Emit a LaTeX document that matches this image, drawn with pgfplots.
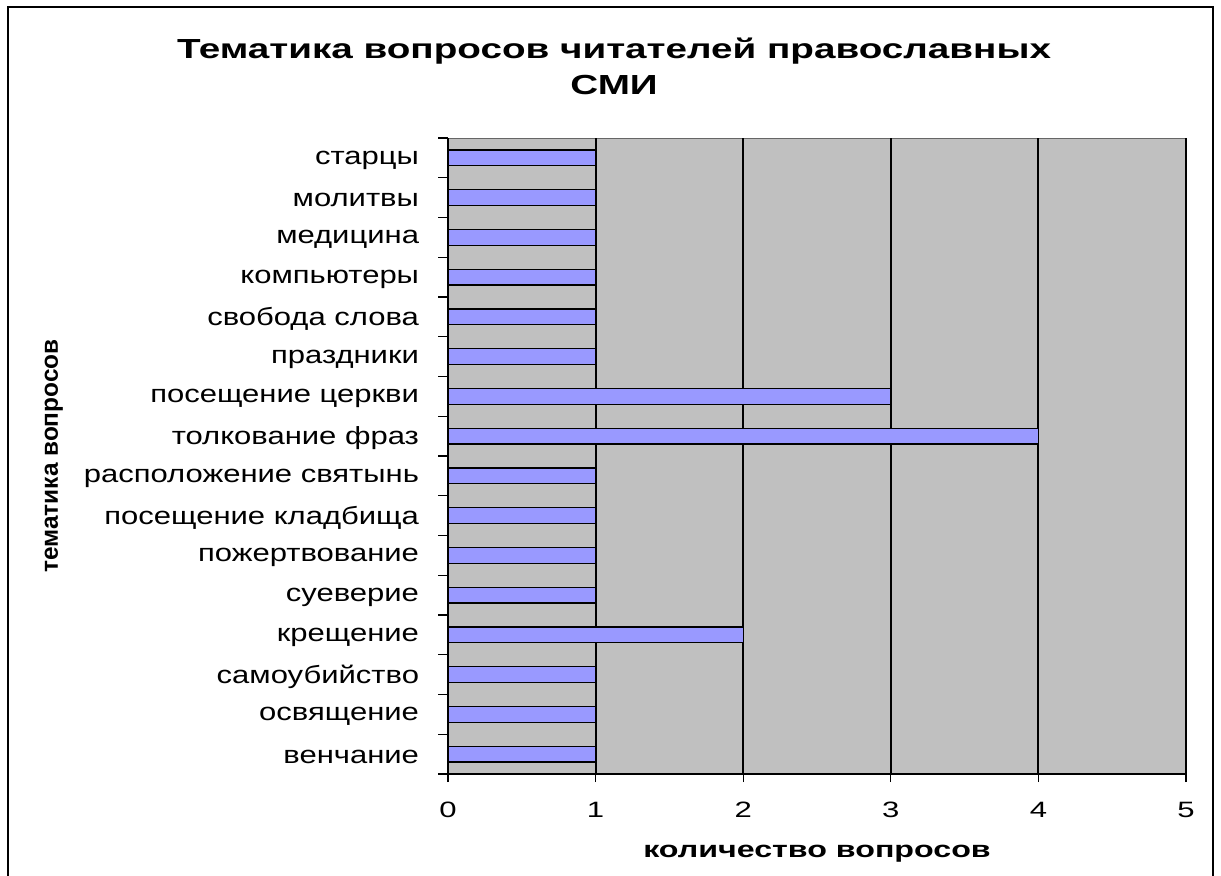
\documentclass[border=0pt]{standalone}
\usepackage{fontspec}
\setmainfont{Liberation Sans}
\newfontfamily\widefont[FakeStretch=1.4]{Liberation Sans}
\newfontfamily\labelfont[FakeStretch=1.25]{Liberation Sans}
\usepackage{pgfplots}
\pgfplotsset{compat=1.18}
\definecolor{plotbg}{HTML}{C0C0C0}
\definecolor{barfill}{HTML}{9999FF}

\begin{document}
\begin{tikzpicture}
    % page = 1221x876 px, 1 px = 0.5bp, origin at top left
    \path[use as bounding box] (0,0) rectangle (610.5bp,-438bp);
    \draw[line width=1bp] (4bp,-438bp) -- (4bp,-3.5bp) -- (606.5bp,-3.5bp) -- (606.5bp,-438bp);
    \begin{axis}[
            at={(224bp,-387bp)}, anchor=south west,
            scale only axis,
            width=369bp, height=318bp,
            xbar, bar width=0.4,
            xmin=0, xmax=5,
            ymin=-0.5, ymax=15.5,
            axis lines*=left,
            axis line style={black, line width=0.6bp},
            axis background/.style={fill=plotbg, draw=gray!80!black, line width=0.5bp},
            xtick={0,...,5},
            xmajorgrids,
            major grid style={black, line width=0.9bp},
            tick align=outside,
            major tick length=4bp,
            tick style={black, line width=0.6bp},
            ytick={0,...,15},
            minor ytick={-0.5,0.5,...,15.5},
            minor y tick style={black, line width=0.6bp},
            minor tick length=5bp,
            major y tick style={draw=none},
            yticklabels={венчание, освящение, самоубийство, крещение, суеверие,
                пожертвование, посещение кладбища, расположение святынь,
                толкование фраз, посещение церкви, праздники, свобода слова,
                компьютеры, медицина, молитвы, старцы},
            /pgf/number format/assume math mode=true,
            xticklabel style={font=\widefont\fontsize{11.1bp}{13bp}\selectfont, yshift=-6.5bp},
            yticklabel style={font=\labelfont\fontsize{12.4bp}{14bp}\selectfont, xshift=-7bp, yshift=-1.2bp},
            xlabel={количество вопросов},
            xlabel style={at={(axis description cs:0.5,-0.126)}, anchor=center,
                font=\widefont\bfseries\fontsize{11.5bp}{13bp}\selectfont},
            ylabel={тематика вопросов},
            ylabel style={at={(axis description cs:-0.534,0.5)}, anchor=center, rotate=0,
                font=\bfseries\fontsize{12.2bp}{14bp}\selectfont},
            title={Тематика вопросов читателей православных\\СМИ},
            title style={at={(axis description cs:0.225,1.094)}, anchor=center, align=center,
                font=\widefont\bfseries\fontsize{13.8bp}{18bp}\selectfont},
        ]
        \addplot[draw=black, line width=0.6bp, fill=barfill] coordinates {
            (1,0) (1,1) (1,2) (2,3) (1,4) (1,5) (1,6) (1,7)
            (4,8) (3,9) (1,10) (1,11) (1,12) (1,13) (1,14) (1,15)
        };
    \end{axis}
\end{tikzpicture}
\end{document}
